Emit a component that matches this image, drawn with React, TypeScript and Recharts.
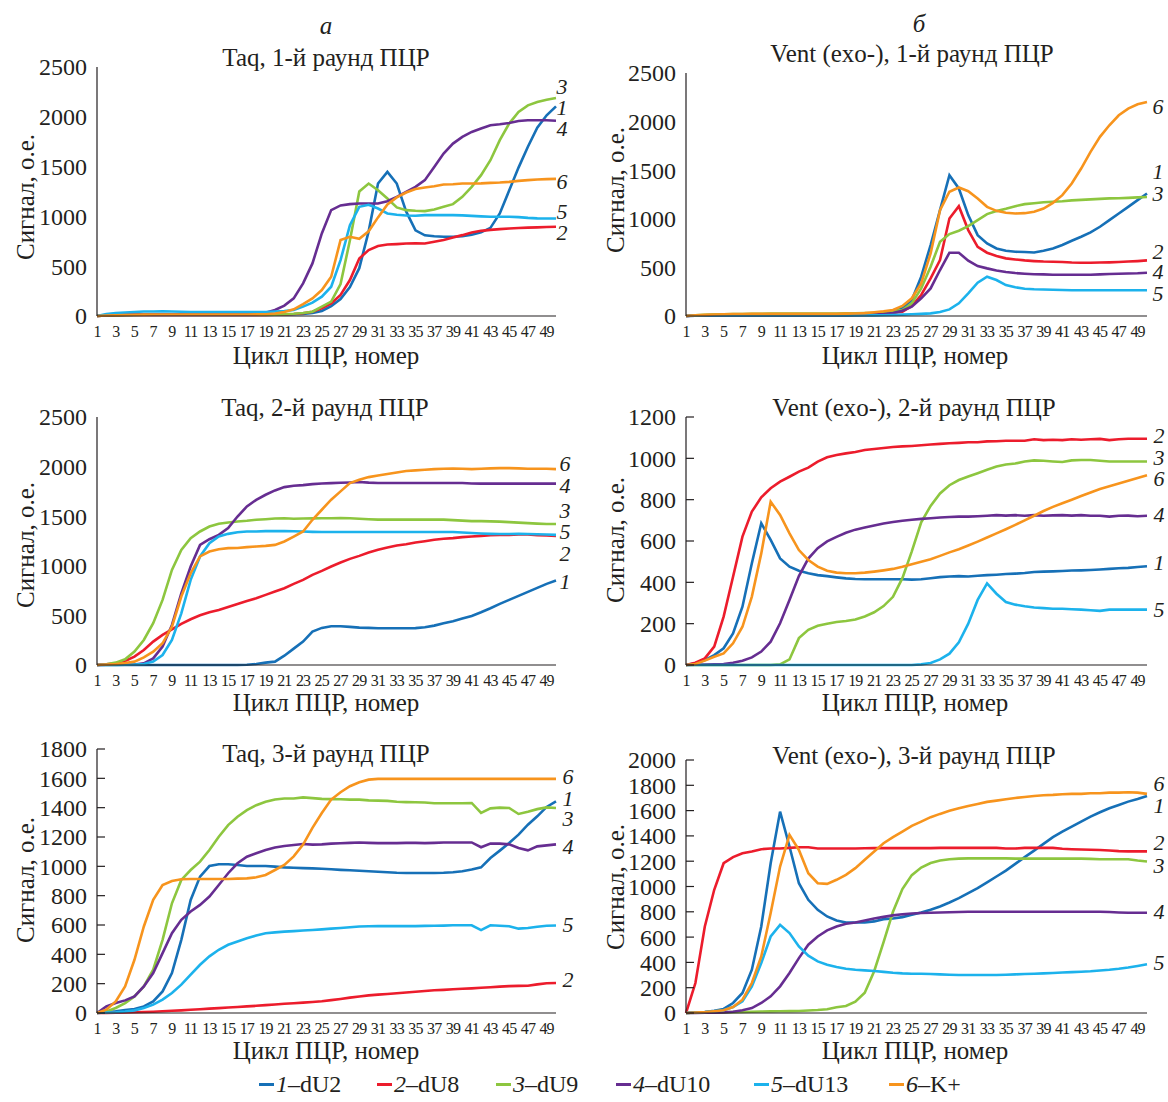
import React from 'react'
import { LineChart, Line, XAxis, YAxis } from 'recharts'

const FONT = '"Liberation Serif", "Times New Roman", serif'
const INK = '#231f20'

// cycle numbers (categories)
const cycles = [1, 2, 3, 4, 5, 6, 7, 8, 9, 10, 11, 12, 13, 14, 15, 16, 17, 18, 19, 20, 21, 22, 23, 24, 25, 26, 27, 28, 29, 30, 31, 32, 33, 34, 35, 36, 37, 38, 39, 40, 41, 42, 43, 44, 45, 46, 47, 48, 49, 50]

// Taq, round 1
const taq1_dU2 = [0, 5, 8, 10, 12, 12, 13, 13, 13, 12, 12, 12, 12, 12, 12, 12, 12, 12, 13, 14, 15, 17, 20, 30, 50, 100, 170, 290, 480, 850, 1330, 1447, 1330, 1050, 860, 810, 800, 795, 795, 800, 815, 840, 885, 1030, 1260, 1490, 1700, 1890, 2015, 2105]
const taq1_dU8 = [0, 5, 8, 10, 10, 10, 10, 10, 10, 10, 10, 10, 10, 10, 10, 10, 10, 10, 10, 12, 15, 20, 28, 43, 77, 127, 211, 361, 578, 662, 702, 718, 722, 728, 730, 728, 745, 762, 789, 812, 839, 855, 865, 872, 878, 883, 887, 890, 893, 896]
const taq1_dU9 = [0, 5, 8, 10, 10, 12, 12, 12, 12, 12, 12, 12, 12, 12, 12, 12, 12, 12, 12, 14, 17, 22, 30, 43, 94, 144, 320, 760, 1250, 1330, 1263, 1180, 1090, 1063, 1056, 1053, 1070, 1096, 1123, 1196, 1297, 1414, 1564, 1765, 1932, 2049, 2115, 2149, 2172, 2189]
const taq1_dU10 = [0, 8, 12, 15, 15, 15, 15, 15, 15, 15, 15, 15, 15, 15, 15, 15, 15, 18, 33, 60, 104, 177, 328, 528, 829, 1063, 1110, 1123, 1130, 1130, 1130, 1153, 1196, 1247, 1297, 1364, 1497, 1631, 1731, 1798, 1848, 1882, 1915, 1925, 1938, 1958, 1965, 1965, 1965, 1960]
const taq1_dU13 = [0, 20, 30, 35, 40, 45, 45, 48, 45, 42, 40, 40, 40, 40, 40, 40, 40, 40, 40, 45, 50, 60, 94, 134, 194, 294, 561, 912, 1096, 1116, 1079, 1029, 1016, 1009, 1006, 1013, 1013, 1013, 1013, 1010, 1005, 1000, 996, 996, 996, 993, 985, 980, 979, 979]
const taq1_K = [0, 5, 8, 10, 12, 14, 15, 15, 15, 15, 15, 15, 15, 15, 15, 15, 15, 16, 18, 25, 40, 67, 120, 177, 261, 394, 762, 795, 775, 850, 990, 1120, 1190, 1240, 1275, 1290, 1303, 1320, 1323, 1330, 1330, 1332, 1337, 1340, 1347, 1357, 1364, 1370, 1374, 1377]

// Vent (exo-), round 1
const vent1_dU2 = [0, 5, 8, 10, 10, 10, 10, 12, 12, 12, 12, 12, 12, 12, 12, 12, 12, 14, 16, 20, 25, 31, 45, 79, 164, 404, 730, 1089, 1449, 1312, 1038, 832, 747, 695, 671, 661, 658, 654, 671, 695, 730, 774, 815, 860, 918, 986, 1055, 1123, 1192, 1260]
const vent1_dU8 = [0, 5, 8, 10, 10, 10, 10, 10, 10, 10, 10, 10, 10, 10, 10, 10, 10, 12, 14, 16, 20, 25, 32, 45, 103, 216, 387, 575, 1003, 1130, 884, 712, 651, 617, 593, 582, 572, 565, 560, 558, 555, 550, 548, 548, 550, 552, 555, 560, 565, 572]
const vent1_dU9 = [0, 8, 12, 15, 18, 20, 20, 22, 22, 25, 25, 25, 25, 25, 25, 25, 25, 27, 28, 30, 32, 40, 50, 62, 130, 284, 507, 764, 843, 877, 925, 986, 1048, 1079, 1103, 1130, 1151, 1160, 1170, 1175, 1180, 1190, 1195, 1200, 1205, 1210, 1212, 1215, 1220, 1225]
const vent1_dU10 = [0, 3, 5, 5, 5, 5, 5, 5, 5, 5, 5, 5, 5, 5, 5, 5, 5, 6, 8, 10, 14, 20, 30, 55, 96, 182, 284, 473, 651, 651, 569, 514, 490, 469, 452, 442, 435, 430, 428, 425, 425, 425, 425, 425, 428, 432, 435, 438, 440, 445]
const vent1_dU13 = [0, 3, 5, 5, 5, 5, 5, 5, 5, 5, 5, 5, 5, 5, 5, 5, 5, 5, 5, 5, 6, 8, 10, 14, 18, 22, 27, 41, 68, 130, 233, 342, 404, 370, 318, 295, 281, 275, 272, 270, 268, 265, 265, 265, 265, 265, 265, 265, 265, 265]
const vent1_K = [0, 8, 12, 15, 18, 20, 20, 22, 22, 22, 22, 22, 22, 22, 22, 22, 22, 24, 26, 30, 38, 48, 62, 103, 182, 336, 644, 1089, 1278, 1322, 1284, 1209, 1123, 1082, 1062, 1055, 1058, 1072, 1106, 1164, 1243, 1363, 1517, 1688, 1843, 1962, 2065, 2134, 2178, 2202]

// Taq, round 2
const taq2_dU2 = [0, 0, 0, 0, 0, 0, 0, 0, 0, 0, 0, 0, 0, 0, 0, 0, 2, 10, 24, 34, 94, 165, 236, 337, 374, 390, 390, 384, 377, 374, 370, 370, 370, 370, 372, 380, 397, 421, 441, 468, 495, 532, 572, 616, 656, 697, 737, 777, 818, 851]
const taq2_dU8 = [0, 7, 17, 40, 84, 151, 236, 303, 360, 414, 461, 501, 532, 555, 585, 616, 646, 673, 707, 740, 774, 818, 858, 909, 949, 993, 1033, 1070, 1100, 1134, 1161, 1184, 1205, 1218, 1235, 1248, 1262, 1272, 1279, 1289, 1296, 1302, 1309, 1312, 1312, 1316, 1316, 1309, 1306, 1302]
const taq2_dU9 = [0, 7, 24, 57, 135, 252, 421, 656, 959, 1161, 1279, 1346, 1396, 1423, 1437, 1447, 1454, 1464, 1470, 1477, 1480, 1475, 1477, 1478, 1480, 1480, 1482, 1480, 1475, 1470, 1465, 1465, 1465, 1465, 1465, 1465, 1465, 1465, 1460, 1455, 1450, 1450, 1448, 1445, 1440, 1435, 1430, 1425, 1422, 1422]
const taq2_dU10 = [0, 2, 3, 4, 5, 17, 67, 185, 404, 723, 992, 1211, 1268, 1312, 1380, 1497, 1598, 1665, 1716, 1760, 1793, 1807, 1813, 1823, 1830, 1833, 1837, 1840, 1845, 1838, 1835, 1835, 1835, 1835, 1835, 1835, 1835, 1835, 1835, 1835, 1830, 1828, 1828, 1828, 1828, 1828, 1828, 1828, 1828, 1828]
const taq2_dU13 = [0, 0, 0, 2, 5, 10, 34, 101, 252, 521, 858, 1094, 1228, 1296, 1322, 1339, 1346, 1346, 1350, 1350, 1350, 1348, 1346, 1342, 1340, 1340, 1340, 1340, 1340, 1340, 1340, 1340, 1340, 1340, 1340, 1340, 1340, 1340, 1340, 1335, 1330, 1325, 1322, 1320, 1320, 1322, 1320, 1318, 1315, 1312]
const taq2_K = [0, 5, 10, 20, 34, 77, 135, 219, 387, 690, 925, 1094, 1144, 1167, 1178, 1180, 1188, 1195, 1201, 1211, 1245, 1295, 1346, 1464, 1565, 1666, 1750, 1834, 1868, 1894, 1911, 1925, 1941, 1955, 1962, 1968, 1975, 1978, 1980, 1978, 1975, 1978, 1982, 1985, 1985, 1982, 1978, 1978, 1978, 1975]

// Vent (exo-), round 2
const vent2_dU2 = [0, 8, 24, 48, 81, 153, 282, 492, 686, 605, 516, 476, 456, 444, 435, 430, 424, 419, 416, 415, 415, 415, 415, 415, 413, 415, 420, 425, 428, 430, 428, 432, 435, 437, 440, 442, 445, 450, 452, 453, 455, 457, 458, 460, 462, 465, 468, 470, 474, 478]
const vent2_dU8 = [0, 11, 32, 89, 234, 427, 621, 742, 811, 855, 887, 911, 936, 955, 984, 1005, 1016, 1024, 1031, 1040, 1045, 1050, 1055, 1058, 1060, 1063, 1067, 1070, 1073, 1075, 1078, 1078, 1082, 1083, 1085, 1085, 1085, 1092, 1088, 1090, 1088, 1092, 1090, 1092, 1094, 1088, 1092, 1095, 1095, 1095]
const vent2_dU9 = [0, 0, 0, 0, 0, 0, 0, 0, 0, 0, 3, 27, 130, 170, 190, 200, 208, 213, 220, 235, 255, 285, 330, 420, 550, 690, 770, 830, 870, 895, 912, 928, 945, 960, 970, 975, 985, 990, 988, 985, 982, 990, 992, 992, 988, 985, 985, 985, 985, 985]
const vent2_dU10 = [0, 1, 2, 3, 5, 11, 21, 37, 65, 113, 202, 315, 430, 515, 565, 598, 620, 640, 655, 665, 675, 685, 692, 698, 703, 707, 710, 714, 716, 718, 718, 720, 722, 725, 723, 725, 722, 725, 722, 724, 725, 723, 725, 722, 722, 718, 722, 723, 720, 722]
const vent2_dU13 = [0, 0, 0, 0, 0, 0, 0, 0, 0, 0, 0, 0, 0, 0, 0, 0, 0, 0, 0, 0, 0, 0, 0, 0, 0, 3, 10, 27, 55, 110, 200, 315, 395, 345, 305, 292, 284, 278, 275, 272, 272, 270, 268, 265, 262, 268, 268, 268, 268, 268]
const vent2_K = [0, 5, 21, 40, 56, 105, 185, 331, 540, 790, 726, 637, 556, 508, 476, 456, 447, 444, 444, 447, 452, 458, 465, 475, 488, 500, 512, 528, 545, 560, 578, 597, 617, 637, 657, 678, 700, 722, 745, 765, 783, 800, 818, 835, 852, 865, 878, 892, 905, 918]

// Taq, round 3
const taq3_dU2 = [0, 5, 11, 20, 27, 45, 79, 147, 272, 499, 771, 930, 1002, 1014, 1014, 1009, 1002, 1002, 1002, 998, 993, 990, 988, 986, 984, 980, 976, 973, 970, 966, 963, 960, 956, 955, 955, 955, 955, 956, 960, 966, 978, 993, 1057, 1107, 1159, 1216, 1284, 1341, 1405, 1443]
const taq3_dU8 = [0, 1, 2, 3, 5, 7, 9, 12, 15, 18, 22, 26, 30, 33, 37, 41, 45, 49, 54, 58, 63, 67, 71, 75, 80, 88, 96, 105, 113, 120, 125, 130, 135, 140, 145, 150, 155, 158, 162, 165, 168, 172, 176, 180, 183, 185, 186, 195, 203, 205]
const taq3_dU9 = [0, 11, 34, 68, 113, 181, 295, 499, 748, 907, 975, 1032, 1111, 1202, 1281, 1338, 1383, 1417, 1440, 1456, 1463, 1462, 1470, 1465, 1460, 1458, 1457, 1455, 1455, 1450, 1448, 1446, 1440, 1438, 1437, 1435, 1430, 1430, 1430, 1430, 1432, 1364, 1395, 1400, 1398, 1357, 1372, 1390, 1402, 1398]
const taq3_dU10 = [0, 45, 68, 86, 113, 181, 272, 408, 544, 635, 692, 737, 794, 873, 953, 1021, 1066, 1089, 1111, 1129, 1139, 1145, 1152, 1148, 1150, 1155, 1157, 1160, 1162, 1160, 1158, 1158, 1158, 1160, 1160, 1158, 1160, 1162, 1163, 1163, 1163, 1130, 1155, 1155, 1150, 1125, 1109, 1136, 1143, 1150]
const taq3_dU13 = [0, 3, 5, 10, 18, 34, 57, 91, 136, 193, 261, 329, 386, 431, 465, 488, 510, 528, 544, 550, 555, 558, 562, 566, 570, 575, 580, 585, 590, 591, 592, 592, 592, 592, 592, 594, 595, 596, 598, 598, 598, 565, 598, 595, 592, 575, 580, 588, 595, 597]
const taq3_K = [0, 23, 79, 181, 363, 590, 771, 873, 900, 912, 914, 914, 914, 914, 914, 916, 918, 925, 941, 975, 1010, 1068, 1148, 1262, 1364, 1455, 1505, 1546, 1573, 1591, 1596, 1596, 1596, 1596, 1596, 1596, 1596, 1596, 1596, 1596, 1596, 1596, 1596, 1596, 1596, 1596, 1596, 1596, 1596, 1596]

// Vent (exo-), round 3
const vent3_dU2 = [0, 4, 8, 18, 32, 79, 158, 342, 684, 1184, 1592, 1316, 1026, 895, 816, 763, 732, 716, 716, 716, 724, 742, 747, 758, 776, 795, 816, 842, 874, 908, 947, 987, 1032, 1079, 1126, 1179, 1232, 1284, 1337, 1390, 1434, 1474, 1513, 1553, 1587, 1619, 1645, 1671, 1692, 1716]
const vent3_dU8 = [0, 237, 684, 974, 1184, 1232, 1263, 1276, 1295, 1300, 1300, 1305, 1310, 1310, 1300, 1300, 1300, 1300, 1300, 1302, 1303, 1303, 1303, 1303, 1303, 1303, 1303, 1305, 1305, 1305, 1305, 1305, 1305, 1305, 1300, 1300, 1305, 1305, 1305, 1305, 1298, 1295, 1292, 1290, 1288, 1285, 1280, 1278, 1278, 1278]
const vent3_dU9 = [0, 2, 3, 4, 5, 7, 8, 10, 12, 13, 14, 15, 16, 20, 24, 30, 45, 55, 90, 160, 330, 560, 800, 980, 1090, 1150, 1185, 1205, 1215, 1220, 1222, 1222, 1222, 1222, 1222, 1220, 1220, 1220, 1220, 1220, 1220, 1220, 1220, 1218, 1215, 1215, 1215, 1215, 1205, 1198]
const vent3_dU10 = [0, 1, 2, 3, 5, 10, 21, 39, 79, 132, 211, 316, 434, 540, 605, 653, 684, 705, 716, 732, 747, 760, 772, 780, 786, 790, 793, 795, 797, 798, 800, 800, 800, 800, 800, 800, 800, 800, 800, 800, 800, 800, 800, 800, 800, 798, 795, 793, 792, 792]
const vent3_dU13 = [0, 4, 8, 14, 21, 47, 92, 211, 395, 605, 697, 632, 526, 453, 408, 382, 363, 350, 342, 337, 332, 325, 318, 313, 310, 310, 308, 305, 302, 300, 300, 300, 300, 300, 302, 305, 308, 310, 313, 316, 320, 323, 326, 330, 336, 342, 350, 360, 372, 385]
const vent3_K = [0, 4, 8, 14, 21, 47, 105, 237, 447, 790, 1158, 1408, 1289, 1105, 1026, 1021, 1053, 1092, 1145, 1211, 1276, 1342, 1390, 1434, 1479, 1513, 1548, 1574, 1598, 1619, 1637, 1653, 1669, 1679, 1690, 1700, 1708, 1716, 1721, 1724, 1729, 1732, 1732, 1737, 1737, 1742, 1742, 1745, 1742, 1732]

const SERIES = [
  { key: 's1', num: '1', name: 'dU2', color: '#1670b7' },
  { key: 's2', num: '2', name: 'dU8', color: '#ec1c2c' },
  { key: 's3', num: '3', name: 'dU9', color: '#8dc63f' },
  { key: 's4', num: '4', name: 'dU10', color: '#662d91' },
  { key: 's5', num: '5', name: 'dU13', color: '#1cb2ec' },
  { key: 's6', num: '6', name: 'K+', color: '#f7941d' },
]

const buildRows = (cols: number[][]) =>
  cycles.map((c, i) => ({
    cycle: c,
    s1: cols[0][i],
    s2: cols[1][i],
    s3: cols[2][i],
    s4: cols[3][i],
    s5: cols[4][i],
    s6: cols[5][i],
  }))

// numY: y-position of the italic curve numbers 1..6 at the right edge of each panel
const panels = [
  {
    title: 'Taq, 1-й раунд ПЦР', rows: buildRows([taq1_dU2, taq1_dU8, taq1_dU9, taq1_dU10, taq1_dU13, taq1_K]),
    ticks: [0, 500, 1000, 1500, 2000, 2500], inward: false,
    x0: 97, w: 459, y0: 67, h: 249, titleX: 326, titleY: 57, yLabX: 25, yLabY: 197, xLabX: 326, xLabY: 355,
    numX: 562, numY: [108, 233, 87, 129, 212, 182],
  },
  {
    title: 'Vent (exo-), 1-й раунд ПЦР', rows: buildRows([vent1_dU2, vent1_dU8, vent1_dU9, vent1_dU10, vent1_dU13, vent1_K]),
    ticks: [0, 500, 1000, 1500, 2000, 2500], inward: false,
    x0: 686, w: 461, y0: 73, h: 243, titleX: 912, titleY: 53, yLabX: 615, yLabY: 190, xLabX: 915, xLabY: 355,
    numX: 1158, numY: [172, 252, 194, 272, 294, 107],
  },
  {
    title: 'Taq, 2-й раунд ПЦР', rows: buildRows([taq2_dU2, taq2_dU8, taq2_dU9, taq2_dU10, taq2_dU13, taq2_K]),
    ticks: [0, 500, 1000, 1500, 2000, 2500], inward: false,
    x0: 97, w: 459, y0: 417, h: 248, titleX: 325, titleY: 407, yLabX: 25, yLabY: 545, xLabX: 326, xLabY: 702,
    numX: 565, numY: [582, 554, 511, 486, 532, 464],
  },
  {
    title: 'Vent (exo-), 2-й раунд ПЦР', rows: buildRows([vent2_dU2, vent2_dU8, vent2_dU9, vent2_dU10, vent2_dU13, vent2_K]),
    ticks: [0, 200, 400, 600, 800, 1000, 1200], inward: true,
    x0: 686, w: 461, y0: 417, h: 248, titleX: 914, titleY: 407, yLabX: 615, yLabY: 540, xLabX: 915, xLabY: 702,
    numX: 1159, numY: [563, 436, 458, 515, 610, 479],
  },
  {
    title: 'Taq, 3-й раунд ПЦР', rows: buildRows([taq3_dU2, taq3_dU8, taq3_dU9, taq3_dU10, taq3_dU13, taq3_K]),
    ticks: [0, 200, 400, 600, 800, 1000, 1200, 1400, 1600, 1800], inward: true,
    x0: 97, w: 459, y0: 749, h: 264, titleX: 326, titleY: 753, yLabX: 25, yLabY: 880, xLabX: 326, xLabY: 1050,
    numX: 568, numY: [799, 980, 819, 847, 925, 777],
  },
  {
    title: 'Vent (exo-), 3-й раунд ПЦР', rows: buildRows([vent3_dU2, vent3_dU8, vent3_dU9, vent3_dU10, vent3_dU13, vent3_K]),
    ticks: [0, 200, 400, 600, 800, 1000, 1200, 1400, 1600, 1800, 2000], inward: true,
    x0: 686, w: 461, y0: 760, h: 253, titleX: 914, titleY: 755, yLabX: 615, yLabY: 887, xLabX: 915, xLabY: 1050,
    numX: 1159, numY: [806, 843, 866, 912, 963, 784],
  },
]

const YTick = (props: any) => {
  const { x, y, payload, inward } = props
  return (
    <g>
      {inward && <line x1={x + 10} x2={x + 18} y1={y} y2={y} stroke={INK} strokeWidth={1.2} />}
      <text x={x} y={y} dy="0.35em" textAnchor="end" style={{ fontFamily: FONT, fontSize: 24 }} fill={INK}>
        {payload.value}
      </text>
    </g>
  )
}

const XTick = (props: any) => {
  const { x, y, payload } = props
  return (
    <text x={x} y={y} dy="0.71em" textAnchor="middle" style={{ fontFamily: FONT, fontSize: 16, letterSpacing: -0.8 }} fill={INK}>
      {payload.value}
    </text>
  )
}

const abs = (x: number, y: number, extra: React.CSSProperties = {}): React.CSSProperties => ({
  position: 'absolute',
  left: x,
  top: y,
  transform: 'translate(-50%, -50%)',
  whiteSpace: 'nowrap',
  lineHeight: 1,
  fontFamily: FONT,
  color: INK,
  ...extra,
})

const Panel = ({ p }: any) => {
  const max = p.ticks[p.ticks.length - 1]
  return (
    <>
      <div style={{ position: 'absolute', left: p.x0 - 90, top: p.y0 - 20 }}>
        <LineChart width={p.w + 100} height={p.h + 60} data={p.rows} margin={{ top: 20, right: 10, left: 20, bottom: 10 }}>
          <XAxis
            dataKey="cycle"
            interval={1}
            tickLine={false}
            tickMargin={4}
            height={30}
            axisLine={{ stroke: INK, strokeWidth: 1.2 }}
            tick={<XTick />}
          />
          <YAxis
            type="number"
            domain={[0, max]}
            ticks={p.ticks}
            interval={0}
            width={70}
            tickLine={false}
            tickMargin={4}
            axisLine={{ stroke: INK, strokeWidth: 1.2 }}
            tick={<YTick inward={p.inward} />}
          />
          {SERIES.map((s) => (
            <Line
              key={s.key}
              dataKey={s.key}
              type="linear"
              stroke={s.color}
              strokeWidth={2.6}
              dot={false}
              activeDot={false}
              isAnimationActive={false}
            />
          ))}
        </LineChart>
      </div>
      <div style={abs(p.titleX, p.titleY, { fontSize: 25 })}>{p.title}</div>
      <div style={abs(p.yLabX, p.yLabY, { fontSize: 25, transform: 'translate(-50%, -50%) rotate(-90deg)' })}>Сигнал, о.е.</div>
      <div style={abs(p.xLabX, p.xLabY, { fontSize: 25 })}>Цикл ПЦР, номер</div>
      {SERIES.map((s, i) => (
        <div key={s.key} style={abs(p.numX, p.numY[i], { fontSize: 22, fontStyle: 'italic', lineHeight: 0.7 })}>{s.num}</div>
      ))}
    </>
  )
}

const legendX = [259, 377, 496, 616, 754, 889]

export default function App() {
  return (
    <div style={{ position: 'absolute', left: 0, top: 0, width: 1168, height: 1102, background: '#fff', overflow: 'hidden' }}>
      <div style={abs(326, 25, { fontSize: 25, fontStyle: 'italic' })}>а</div>
      <div style={abs(919, 23, { fontSize: 25, fontStyle: 'italic' })}>б</div>
      {panels.map((p, i) => (
        <Panel key={i} p={p} />
      ))}
      {SERIES.map((s, i) => (
        <div
          key={s.key}
          style={{ position: 'absolute', left: legendX[i], top: 1072, display: 'flex', alignItems: 'center', fontFamily: FONT, fontSize: 24, color: INK, whiteSpace: 'nowrap', lineHeight: 1 }}
        >
          <span style={{ display: 'inline-block', width: 15, height: 3, background: s.color, marginRight: 2 }} />
          <span>
            <i>{s.num}</i>–{s.name}
          </span>
        </div>
      ))}
    </div>
  )
}
